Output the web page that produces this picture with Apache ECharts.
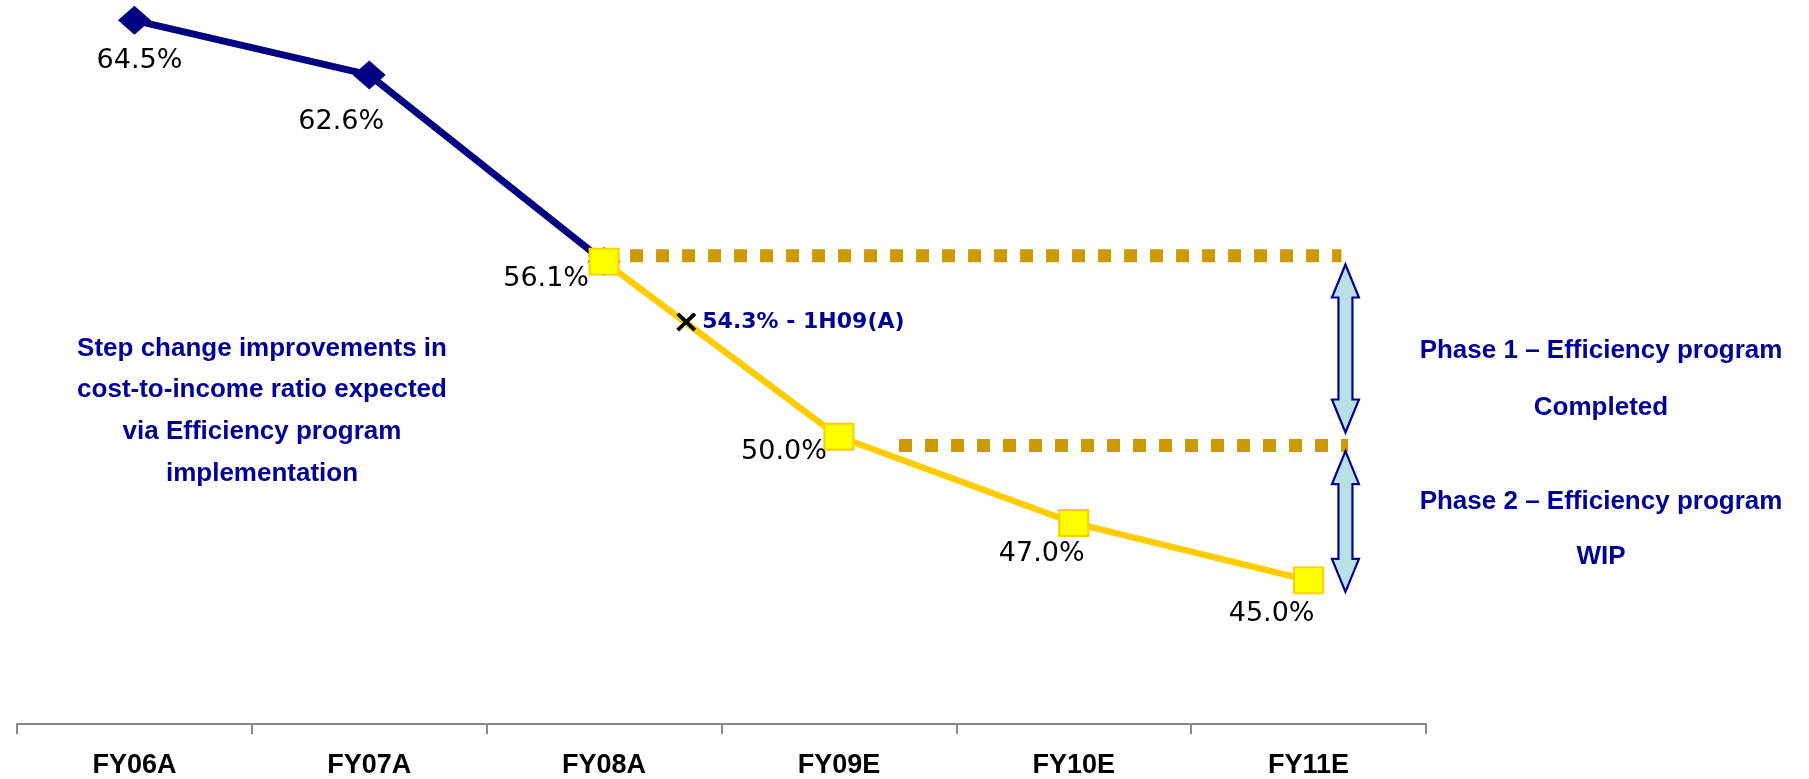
<!DOCTYPE html>
<html><head><meta charset="utf-8">
<script src="https://cdn.jsdelivr.net/npm/echarts@6/dist/echarts.min.js"></script>
<style>html,body{margin:0;padding:0;background:#fff}#c{width:1809px;height:779px}</style>
</head><body><div id="c"></div>
<script>
// ---- data ----
const categories = ['FY06A', 'FY07A', 'FY08A', 'FY09E', 'FY10E', 'FY11E'];
const actualValues = [64.5, 62.6, 56.1, null, null, null];
const targetValues = [null, null, 56.1, 50.0, 47.0, 45.0];
const halfYearPoint = [2.35, 54.0];
const halfYearLabel = '54.3% - 1H09(A)';
const phase1Line = [[2.0, 56.3], [5.14, 56.3]];
const phase2Line = [[3.256, 49.7], [5.168, 49.7]];
const phaseArrows = [[5.157, 56.0, 50.15], [5.157, 49.5, 44.6]];
const phase1Text = ['Phase 1 – Efficiency program', 'Completed'];
const phase2Text = ['Phase 2 – Efficiency program', 'WIP'];
const noteText = ['Step change improvements in', 'cost-to-income ratio expected', 'via Efficiency program', 'implementation'];
const yMin = 40, yMax = 65;

// ---- styling ----
const NAVY = '#000080', TXT = '#000099', GOLD = '#CC9900';
const actualOffsets = [[5, 41], [-28, 47], [-58, 17]];
const targetOffsets = [null, null, null, [-55, 15], [-32, 31], [-37, 34]];
const valFont = { fontFamily: '"DejaVu Sans", sans-serif', fontSize: 27, color: '#000' };
const boldFont = 'bold 26px "Liberation Sans", Arial, sans-serif';

function withLabels(values, offsets) {
  return values.map((v, i) => {
    if (v == null) return null;
    const o = offsets[i];
    return {
      value: v,
      label: o ? Object.assign({ show: true, position: 'inside', offset: o,
        formatter: p => p.value.toFixed(1) + '%' }, valFont) : { show: false }
    };
  });
}

const chart = echarts.init(document.getElementById('c'), null, { renderer: 'canvas' });
chart.setOption({
  animation: false,
  grid: { left: 17, right: 383, top: 6, bottom: 54 },
  xAxis: [{
    type: 'category', data: categories, boundaryGap: true,
    axisLine: { lineStyle: { color: '#888', width: 2 } },
    axisTick: { show: true, length: 10, interval: 0, lineStyle: { color: '#888', width: 2 } },
    axisLabel: { interval: 0, margin: 28, color: '#000', fontWeight: 'bold', fontSize: 27,
      fontFamily: '"Liberation Sans", Arial, sans-serif' },
    splitLine: { show: false }
  }, {
    type: 'value', min: -0.5, max: 5.5, show: false, position: 'top'
  }],
  yAxis: { type: 'value', min: yMin, max: yMax, show: false, splitLine: { show: false } },
  series: [
    {
      type: 'line', name: 'actual', data: withLabels(actualValues, actualOffsets),
      z: 2, symbol: 'diamond', symbolSize: [33, 29], connectNulls: false,
      lineStyle: { color: NAVY, width: 7 }, itemStyle: { color: NAVY }
    },
    {
      type: 'line', xAxisIndex: 1, data: phase1Line, symbol: 'none', z: 3,
      lineStyle: { color: GOLD, width: 13, type: [13, 13], cap: 'butt' }
    },
    {
      type: 'line', xAxisIndex: 1, data: phase2Line, symbol: 'none', z: 3,
      lineStyle: { color: GOLD, width: 13, type: [13, 13], cap: 'butt' }
    },
    {
      type: 'line', name: 'target', data: withLabels(targetValues, targetOffsets),
      z: 4, symbol: 'rect', symbolSize: [29, 26],
      lineStyle: { color: '#FFCC00', width: 6.5 },
      itemStyle: { color: '#FFFF00', borderColor: '#FFCC00', borderWidth: 2 }
    },
    {
      type: 'scatter', xAxisIndex: 1, data: [halfYearPoint], z: 5,
      symbol: 'path://M0,2.8L2.8,0L10,7.2L17.2,0L20,2.8L12.8,10L20,17.2L17.2,20L10,12.8L2.8,20L0,17.2L7.2,10Z',
      symbolSize: [20, 19], itemStyle: { color: '#000', opacity: 1 },
      label: { show: true, position: 'right', distance: 6, formatter: halfYearLabel,
        color: TXT, fontWeight: 'bold', fontSize: 22, fontFamily: '"DejaVu Sans", sans-serif' }
    },
    {
      type: 'custom', xAxisIndex: 1, data: phaseArrows, z: 5,
      encode: { x: 0, y: [1, 2] },
      renderItem: function (params, api) {
        const p1 = api.coord([api.value(0), api.value(1)]);
        const p2 = api.coord([api.value(0), api.value(2)]);
        const cx = p1[0], t = p1[1], b = p2[1];
        const hw = 13.5, sw = 7, hl = 33;
        return {
          type: 'polygon',
          shape: { points: [[cx, t], [cx + hw, t + hl], [cx + sw, t + hl], [cx + sw, b - hl], [cx + hw, b - hl],
            [cx, b], [cx - hw, b - hl], [cx - sw, b - hl], [cx - sw, t + hl], [cx - hw, t + hl]] },
          style: { fill: '#BADFE4', stroke: TXT, lineWidth: 2.2 }
        };
      }
    }
  ],
  graphic: [
    { type: 'text', x: 262, y: 327.5, style: { text: noteText.join('\n'), font: boldFont, fill: TXT,
      align: 'center', verticalAlign: 'top', lineHeight: 41.7 } },
    { type: 'text', x: 1601, y: 322, style: { text: phase1Text.join('\n'), font: boldFont, fill: TXT,
      align: 'center', verticalAlign: 'top', lineHeight: 57 } },
    { type: 'text', x: 1601, y: 474, style: { text: phase2Text.join('\n'), font: boldFont, fill: TXT,
      align: 'center', verticalAlign: 'top', lineHeight: 55.5 } }
  ]
});
</script>
</body></html>
